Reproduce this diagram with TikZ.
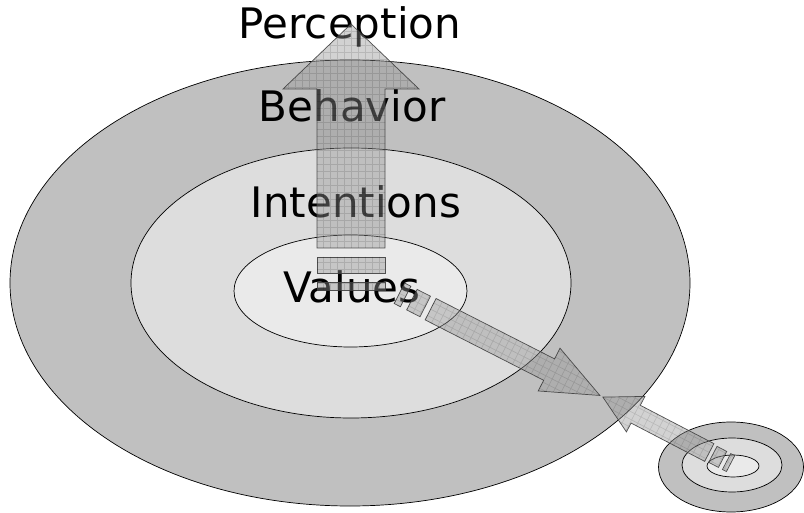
\documentclass[tikz,border=0pt]{standalone}
\usepackage{fontspec}
\setmainfont{DejaVu Sans}
\definecolor{ringA}{RGB}{192,192,192}
\definecolor{ringB}{RGB}{221,221,221}
\definecolor{ringC}{RGB}{234,234,234}
\definecolor{arrowgray}{RGB}{150,150,150}
\tikzset{
  lbl/.style={font=\fontsize{42}{50}\selectfont, anchor=base, inner sep=0pt},
  ring/.style={draw=black, line width=0.7pt},
  arrowfill/.style={fill=arrowgray, fill opacity=0.42, draw=black!75, draw opacity=0.9, line width=0.7pt},
  gridline/.style={draw=black, draw opacity=0.12, line width=0.6pt},
}
\begin{document}
\begin{tikzpicture}[x=1pt,y=-1pt]
\useasboundingbox[fill=white] (0,0) rectangle (804,513);
% large target
\draw[ring, fill=ringA] (350,283) ellipse [x radius=340pt, y radius=223pt];
\draw[ring, fill=ringB] (351,283) ellipse [x radius=220pt, y radius=135pt];
\draw[ring, fill=ringC] (350.5,291) ellipse [x radius=116.5pt, y radius=56pt];
% small target
\draw[ring, fill=ringA] (731,467) ellipse [x radius=72.5pt, y radius=45pt];
\draw[ring, fill=ringB] (732,465) ellipse [x radius=50pt, y radius=27pt];
\draw[ring, fill=ringC] (733,466) ellipse [x radius=26pt, y radius=11pt];
% labels
\node[lbl] (perception) at (350,39) {Perception};
\node[lbl] (behavior) at (352,121.5) {Behavior};
\node[lbl] (intentions) at (356,218) {Intentions};
\node[lbl] (values) at (352,303) {Values};
% up arrow
\begin{scope}[shift={(351,248)}, rotate=90]
  \filldraw[arrowfill] (0,-34) -- (159,-34) -- (159,-68) -- (224,0) -- (159,68) -- (159,34) -- (0,34) -- cycle;
  \filldraw[arrowfill] (-25,-34) rectangle (-9,34);
  \filldraw[arrowfill] (-42,-34) rectangle (-34,34);
  \begin{scope}
    \clip (0,-34) -- (159,-34) -- (159,-68) -- (224,0) -- (159,68) -- (159,34) -- (0,34) -- cycle
          (-25,-34) rectangle (-9,34) (-42,-34) rectangle (-34,34);
    \draw[gridline, step=7pt] (-42,-70) grid (230,70);
  \end{scope}
\end{scope}
% diagonal arrow
\begin{scope}[shift={(430.6,309.2)}, rotate=-27]
  \filldraw[arrowfill] (0,-12) -- (133,-12) -- (133,-24) -- (190,0) -- (133,24) -- (133,12) -- (0,12) -- cycle;
  \filldraw[arrowfill] (-21,-11.5) rectangle (-6,11.5);
  \filldraw[arrowfill] (-35,-11.5) rectangle (-28,11.5);
  \begin{scope}
    \clip (0,-12) -- (133,-12) -- (133,-24) -- (190,0) -- (133,24) -- (133,12) -- (0,12) -- cycle
          (-21,-11.5) rectangle (-6,11.5) (-35,-11.5) rectangle (-28,11.5);
    \draw[gridline, step=7pt] (-35,-28) grid (195,28);
  \end{scope}
\end{scope}
% small arrow
\begin{scope}[shift={(709.3,452.5)}, rotate=152.5]
  \filldraw[arrowfill] (0,-10) -- (83,-10) -- (83,-20) -- (120,0) -- (83,20) -- (83,10) -- (0,10) -- cycle;
  \filldraw[arrowfill] (-15,-9) rectangle (-4,9);
  \filldraw[arrowfill] (-24,-9) rectangle (-19.5,9);
  \begin{scope}
    \clip (0,-10) -- (83,-10) -- (83,-20) -- (120,0) -- (83,20) -- (83,10) -- (0,10) -- cycle
          (-15,-9) rectangle (-4,9) (-24,-9) rectangle (-19.5,9);
    \draw[gridline, step=7pt] (-28,-21) grid (125,21);
  \end{scope}
\end{scope}
\end{tikzpicture}
\end{document}
